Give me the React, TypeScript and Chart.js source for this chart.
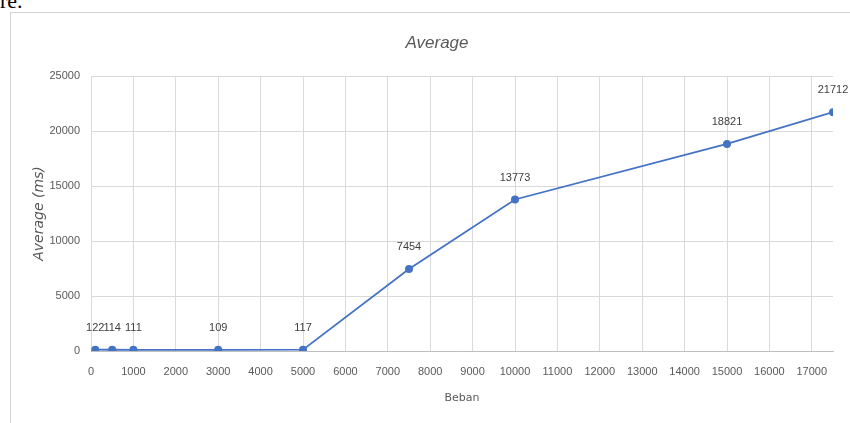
import React, { useEffect, useRef } from "react";
import { Chart, registerables } from "chart.js";

Chart.register(...registerables);

const bebanValues: number[] = [100, 500, 1000, 3000, 5000, 7500, 10000, 15000, 17500];
const averageMs: number[] = [122, 114, 111, 109, 117, 7454, 13773, 18821, 21712];
const xTickValues: number[] = [0, 1000, 2000, 3000, 4000, 5000, 6000, 7000, 8000, 9000, 10000, 11000, 12000, 13000, 14000, 15000, 16000, 17000];
const yTickValues: number[] = [0, 5000, 10000, 15000, 20000, 25000];
const chartTitle = "Average";
const xTitle = "Beban";
const yTitle = "Average (ms)";

const TICK_FONT = "'Liberation Sans', Arial, sans-serif";
const GRID = "#d9d9d9";
const TEXT = "#595959";
const BLUE = "#4472C4";

const valueLabels = {
  id: "valueLabels",
  afterDatasetsDraw(chart: any) {
    const ctx = chart.ctx;
    const meta = chart.getDatasetMeta(0);
    const data = chart.data.datasets[0].data as any[];
    ctx.save();
    ctx.font = `11px ${TICK_FONT}`;
    ctx.fillStyle = "#404040";
    ctx.textAlign = "center";
    ctx.textBaseline = "middle";
    meta.data.forEach((pt: any, i: number) => {
      ctx.fillText(String(data[i].y), pt.x, pt.y - 22);
    });
    // chart title
    ctx.font = `italic 17px ${TICK_FONT}`;
    ctx.fillStyle = TEXT;
    ctx.fillText(chartTitle, 437, 43);
    ctx.restore();
  },
};

export default function App() {
  const ref = useRef<HTMLCanvasElement | null>(null);

  useEffect(() => {
    if (!ref.current) return;
    const chart = new Chart(ref.current, {
      type: "scatter",
      data: {
        datasets: [
          {
            label: chartTitle,
            data: bebanValues.map((x, i) => ({ x, y: averageMs[i] })),
            showLine: true,
            borderColor: BLUE,
            backgroundColor: BLUE,
            borderWidth: 1.8,
            pointRadius: 4,
            pointBorderWidth: 0,
            pointBackgroundColor: BLUE,
            tension: 0,
          },
        ],
      },
      options: {
        responsive: false,
        animation: false,
        devicePixelRatio: 1,
        layout: { padding: { left: 12, top: 76, right: 17, bottom: 0 } },
        plugins: {
          legend: { display: false },
          tooltip: { enabled: false },
          title: { display: false },
        },
        scales: {
          x: {
            type: "linear",
            min: 0,
            max: 17500,
            afterFit: (s: any) => {
              s.height = 72;
            },
            afterBuildTicks: (s: any) => {
              s.ticks = xTickValues.map((v) => ({ value: v }));
            },
            ticks: {
              padding: 14,
              color: TEXT,
              font: { family: TICK_FONT, size: 11 },
              maxRotation: 0,
              autoSkip: false,
              callback: (v: any) => String(v),
            },
            grid: { color: GRID, drawTicks: false, lineWidth: 1 },
            border: { color: "#bfbfbf", width: 1 },
            title: {
              display: true,
              text: xTitle,
              color: TEXT,
              font: { family: "'DejaVu Sans', sans-serif", size: 11 },
              padding: { top: 0, bottom: 18 },
            },
          },
          y: {
            type: "linear",
            min: 0,
            max: 25000,
            afterFit: (s: any) => {
              s.width = 79;
            },
            afterBuildTicks: (s: any) => {
              s.ticks = yTickValues.map((v) => ({ value: v }));
            },
            ticks: {
              padding: 11,
              color: TEXT,
              font: { family: TICK_FONT, size: 11 },
              callback: (v: any) => String(v),
            },
            grid: { color: GRID, drawTicks: false, lineWidth: 1 },
            border: { display: false },
            title: {
              display: true,
              text: yTitle,
              color: TEXT,
              font: { family: "'DejaVu Sans', sans-serif", size: 14, style: "italic" },
              padding: { top: 19, bottom: 0 },
            },
          },
        },
      },
      plugins: [valueLabels],
    });
    return () => chart.destroy();
  }, []);

  return (
    <div
      style={{
        position: "absolute",
        left: 0,
        top: 0,
        width: 850,
        height: 423,
        overflow: "hidden",
        background: "#fff",
      }}
    >
      <div
        style={{
          position: "absolute",
          left: 0,
          top: -10,
          fontFamily: "'Liberation Serif', serif",
          fontSize: 22,
          lineHeight: "22px",
          color: "#000",
        }}
      >
        re.
      </div>
      <div
        style={{
          position: "absolute",
          left: 10,
          top: 12,
          width: 860,
          height: 430,
          borderLeft: "1px solid #d4d4d4",
          borderTop: "1px solid #d4d4d4",
        }}
      />
      <canvas
        ref={ref}
        width={850}
        height={423}
        style={{ position: "absolute", left: 0, top: 0, width: 850, height: 423 }}
      />
    </div>
  );
}
